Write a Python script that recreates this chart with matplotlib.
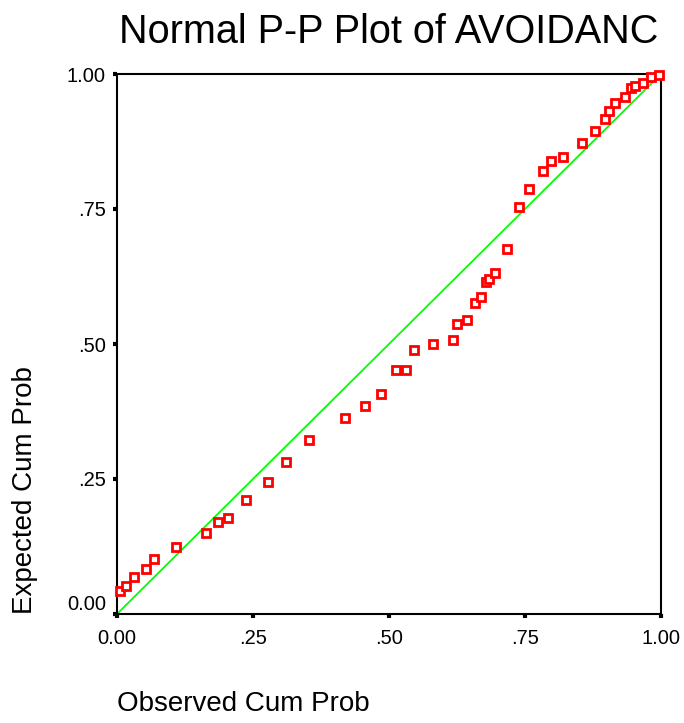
import matplotlib
matplotlib.use("Agg")
import matplotlib.pyplot as plt
import matplotlib.transforms as mtransforms

plt.rcParams['font.family'] = ['Liberation Sans', 'DejaVu Sans']

title = "Normal P-P Plot of AVOIDANC"
xlabel = "Observed Cum Prob"
ylabel = "Expected Cum Prob"

observed = [0.0055, 0.016, 0.0313, 0.0533, 0.068, 0.109, 0.163, 0.185, 0.2035, 0.2366,
            0.277, 0.310, 0.3535, 0.4197, 0.4568, 0.4858, 0.5123, 0.5307, 0.5454, 0.5814,
            0.6182, 0.6256, 0.6439, 0.6586, 0.670, 0.6774, 0.6842, 0.6952, 0.7175, 0.7395,
            0.7579, 0.7836, 0.7978, 0.8204, 0.8539, 0.8787, 0.8971, 0.9039, 0.9154, 0.9333,
            0.9445, 0.9517, 0.9669, 0.9811, 0.996]
expected = [0.0426, 0.0524, 0.068, 0.0828, 0.1013, 0.1235, 0.150, 0.1709, 0.1783, 0.2117,
            0.245, 0.282, 0.3217, 0.3624, 0.3852, 0.4069, 0.4513, 0.4513, 0.4883, 0.4996,
            0.5069, 0.5365, 0.5439, 0.5765, 0.5876, 0.6139, 0.6211, 0.632, 0.6765, 0.7543,
            0.787, 0.8204, 0.8394, 0.8457, 0.8717, 0.8944, 0.9163, 0.9319, 0.9463, 0.957,
            0.975, 0.9787, 0.9837, 0.9939, 0.9976]
ref_line = [0.0, 1.0]
ticks = [0.0, 0.25, 0.5, 0.75, 1.0]
tick_labels = ["0.00", ".25", ".50", ".75", "1.00"]

fig = plt.figure(figsize=(6.84, 7.23), dpi=100)
ax = fig.add_axes([117/684, 109/723, 544/684, 540/723])

ax.plot(ref_line, ref_line, color='#00FF00', lw=1.3, zorder=2)
ax.plot(observed, expected, ls='none', marker='s', ms=5.8, mew=2.0,
        mec='#FF0000', mfc='white', zorder=3, clip_on=False)

ax.set_xlim(0, 1)
ax.set_ylim(0, 1)
ax.set_xticks(ticks)
ax.set_xticklabels(tick_labels)
ax.set_yticks(ticks)
ax.set_yticklabels(tick_labels)

for s in ax.spines.values():
    s.set_linewidth(1.5)
    s.set_color('black')

ax.tick_params(axis='x', direction='out', length=3, width=3, pad=8, labelsize=14.5)
ax.tick_params(axis='y', direction='out', length=3, width=3, pad=5, labelsize=14.5)

# shift y "0.00" label up like the original
off = mtransforms.ScaledTranslation(0, 8/72, fig.dpi_scale_trans)
ylab0 = ax.get_yticklabels()[0]
ylab0.set_transform(ylab0.get_transform() + off)

ax.set_title(title, fontsize=28.5, pad=22)
ax.set_xlabel(xlabel, fontsize=20, loc='left')
ax.xaxis.set_label_coords(0.0, -0.143)
ax.set_ylabel(ylabel, fontsize=20, loc='bottom')
ax.yaxis.set_label_coords(-0.145, 0.0)

fig.savefig("out.png", dpi=100)
